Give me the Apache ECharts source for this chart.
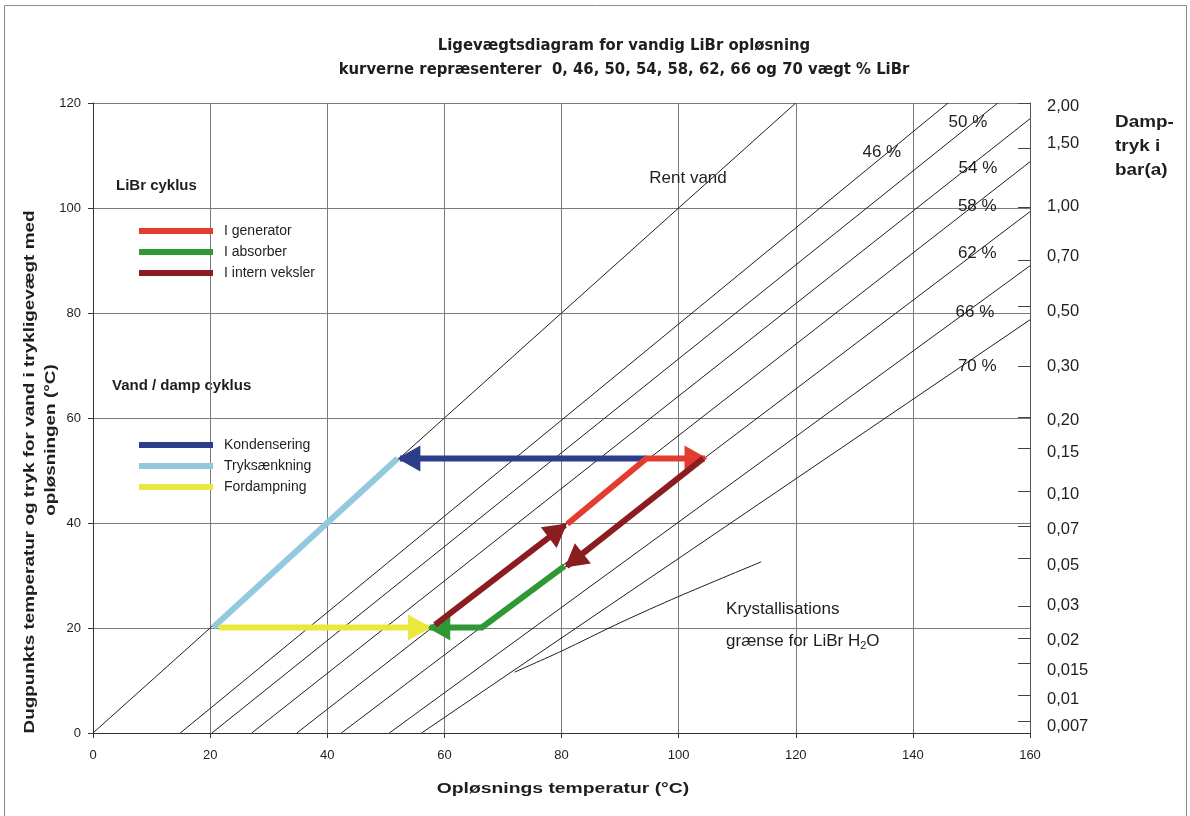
<!DOCTYPE html>
<html>
<head>
<meta charset="utf-8">
<script src="https://cdn.jsdelivr.net/npm/echarts@6/dist/echarts.min.js"></script>
<style>
  html, body { margin: 0; padding: 0; background: #fff; }
  #chart { width: 1190px; height: 816px; }
</style>
</head>
<body>
<div id="chart"></div>
<script>
// Dühring lines: solution temperature (x, °C) against dew-point temperature (y, °C)
const curveNames = ['0 %', '46 %', '50 %', '54 %', '58 %', '62 %', '66 %', '70 %'];
const curveStart = [[0, 0], [14.9, 0], [20.3, 0], [27.1, 0], [34.8, 0], [42.4, 0], [50.6, 0], [56.1, 0]];
const curveEnd = [[120, 120], [146, 120], [154.5, 120], [160, 117], [160, 108.8], [160, 99.3], [160, 89], [160, 78.7]];

// crystallisation limit for LiBr·H2O
const crystalLine = [[72, 11.6], [80, 15.6], [90, 21.0], [100, 26.0], [114.1, 32.6]];

// absorption cycle paths, [solution temp, dew-point temp]
const generatorPath = [[81.0, 39.8], [94.5, 52.3], [104.5, 52.3]];
const absorberPath = [[80.5, 31.8], [66.4, 20.1], [57.5, 20.1]];
const exchangerUpPath = [[58.4, 20.6], [80.6, 39.6]];
const exchangerDownPath = [[104.2, 52.3], [80.9, 31.8]];
const condenserPath = [[94.5, 52.3], [52.4, 52.3]];
const throttlePath = [[52.0, 52.3], [20.5, 20.1]];
const evaporatorPath = [[21.5, 20.1], [57.3, 20.1]];

// right axis: vapour pressure in bar(a) and the dew-point temperatures they sit at
const pressureLabels = ['2,00', '1,50', '1,00', '0,70', '0,50', '0,30', '0,20', '0,15', '0,10', '0,07', '0,05', '0,03', '0,02', '0,015', '0,01', '0,007'];
const pressureTickAt = [120, 111.4, 100.2, 90.1, 81.2, 69.8, 60.2, 54.3, 46.0, 39.3, 33.3, 24.2, 18.0, 13.3, 7.2, 2.3];
const pressureLabelAt = [119.3, 112.3, 100.2, 90.7, 80.2, 69.8, 59.6, 53.4, 45.5, 38.7, 32.0, 24.2, 17.7, 12.0, 6.4, 1.2];

const FONT = '"Liberation Sans", Arial, sans-serif';
const INK = '#1e1e1e';

const COLORS = {
  generator: '#e33b30',
  absorber: '#2f9733',
  exchanger: '#8b1c1f',
  condenser: '#2b3d8b',
  throttle: '#93c8de',
  evaporator: '#ebe83c'
};

const chart = echarts.init(document.getElementById('chart'), null, { renderer: 'canvas' });

const series = [];

// concentration lines
curveNames.forEach((name, i) => {
  series.push({
    type: 'line',
    name: 'curve ' + name,
    data: [curveStart[i], curveEnd[i]],
    symbol: 'none',
    silent: true,
    z: 2,
    lineStyle: { color: INK, width: 1 }
  });
});

series.push({
  type: 'line',
  name: 'crystal',
  data: crystalLine,
  smooth: 0.3,
  symbol: 'none',
  silent: true,
  z: 2,
  lineStyle: { color: INK, width: 1 }
});

// a thick cycle path ending in a solid arrow head
function cyclePath(name, color, path, arrow, z) {
  const s = {
    type: 'line',
    name: name,
    color: color,
    data: path,
    symbol: 'none',
    silent: true,
    z: z,
    lineStyle: { color: color, width: 6, cap: 'butt', join: 'miter' }
  };
  if (arrow) {
    const n = path.length;
    s.markLine = {
      silent: true,
      symbol: ['none', 'triangle'],
      symbolSize: [26, 23],
      symbolOffset: [0, [0, 9]],
      label: { show: false },
      emphasis: { disabled: true },
      lineStyle: { color: color, width: 0, type: 'solid', opacity: 1 },
      data: [[{ coord: path[n - 2] }, { coord: path[n - 1] }]]
    };
  }
  return s;
}

series.push(cyclePath('Tryksænkning', COLORS.throttle, throttlePath, false, 5));
series.push(cyclePath('Fordampning', COLORS.evaporator, evaporatorPath, true, 6));
series.push(cyclePath('Kondensering', COLORS.condenser, condenserPath, true, 6));
series.push(cyclePath('I absorber', COLORS.absorber, absorberPath, true, 7));
series.push(cyclePath('I generator', COLORS.generator, generatorPath, true, 8));
series.push(cyclePath('I intern veksler', COLORS.exchanger, exchangerUpPath, true, 9));
series.push(cyclePath('I intern veksler', COLORS.exchanger, exchangerDownPath, true, 9));

// in-plot annotations
const notes = [
  { value: [101.6, 105.7], name: 'Rent vand' },
  { value: [134.7, 110.7], name: '46 %' },
  { value: [149.4, 116.4], name: '50 %' },
  { value: [151.1, 107.6], name: '54 %' },
  { value: [151.0, 100.3], name: '58 %' },
  { value: [151.0, 91.4], name: '62 %' },
  { value: [150.6, 80.2], name: '66 %' },
  { value: [151.0, 69.8], name: '70 %' }
];
series.push({
  type: 'scatter',
  name: 'notes',
  data: notes,
  symbolSize: 0,
  silent: true,
  z: 10,
  itemStyle: { opacity: 1 },
  label: {
    show: true,
    position: 'inside',
    formatter: p => p.name,
    fontFamily: FONT,
    fontSize: 17,
    color: INK,
    textBorderWidth: 0
  }
});
series.push({
  type: 'scatter',
  name: 'crystal note',
  data: [{ value: [108.1, 20.5], name: 'k' }],
  symbolSize: 0,
  silent: true,
  z: 10,
  itemStyle: { opacity: 1 },
  label: {
    show: true,
    position: 'inside',
    align: 'left',
    verticalAlign: 'middle',
    textBorderWidth: 0,
    formatter: '{t|Krystallisations}\n{t|grænse for LiBr H}{s|2}{t|O}',
    lineHeight: 32,
    rich: {
      t: { fontFamily: FONT, fontSize: 17, color: INK, lineHeight: 32, textBorderWidth: 0 },
      s: { fontFamily: FONT, fontSize: 11, color: INK, padding: [9, 0, 0, 0], lineHeight: 32, textBorderWidth: 0 }
    }
  }
});

function nearestLabel(v) {
  let best = 0, d = Infinity;
  pressureLabelAt.forEach((p, i) => { const dd = Math.abs(p - v); if (dd < d) { d = dd; best = i; } });
  return pressureLabels[best];
}

const legendText = { fontFamily: FONT, fontSize: 14, color: INK, lineHeight: 20, padding: [0, 0, 0, 6] };

const option = {
  animation: false,
  backgroundColor: '#ffffff',
  textStyle: { fontFamily: FONT },
  title: {
    text: 'Ligevægtsdiagram for vandig LiBr opløsning\nkurverne repræsenterer  0, 46, 50, 54, 58, 62, 66 og 70 vægt % LiBr',
    left: 619,
    top: 29,
    textAlign: 'center',
    textStyle: {
      fontFamily: '"Liberation Sans Narrow", "DejaVu Sans Condensed", "Arial Narrow", sans-serif',
      fontSize: 16.5,
      fontWeight: 'bold',
      lineHeight: 24,
      color: INK
    }
  },
  legend: [
    {
      orient: 'vertical',
      left: 139,
      top: 221,
      padding: 0,
      icon: 'rect',
      itemWidth: 74,
      itemHeight: 6,
      itemGap: 1,
      selectedMode: false,
      data: ['I generator', 'I absorber', 'I intern veksler'],
      textStyle: legendText
    },
    {
      orient: 'vertical',
      left: 139,
      top: 435,
      padding: 0,
      icon: 'rect',
      itemWidth: 74,
      itemHeight: 6,
      itemGap: 1,
      selectedMode: false,
      data: ['Kondensering', 'Tryksænkning', 'Fordampning'],
      textStyle: legendText
    }
  ],
  grid: { left: 93, top: 103, right: 160, bottom: 83, containLabel: false },
  xAxis: {
    type: 'value',
    min: 0,
    max: 160,
    interval: 20,
    axisLine: { lineStyle: { color: '#333', width: 1 } },
    axisTick: { show: true, length: 5, lineStyle: { color: '#333' } },
    axisLabel: { fontFamily: FONT, fontSize: 13, color: INK, margin: 16 },
    splitLine: { show: true, lineStyle: { color: '#7a7a7a', width: 1 } }
  },
  yAxis: [
    {
      type: 'value',
      min: 0,
      max: 120,
      interval: 20,
      axisLine: { show: true, lineStyle: { color: '#333', width: 1 } },
      axisTick: { show: true, length: 5, lineStyle: { color: '#333' } },
      axisLabel: { fontFamily: FONT, fontSize: 13, color: INK, margin: 12 },
      splitLine: { show: true, lineStyle: { color: '#7a7a7a', width: 1 } }
    },
    {
      type: 'value',
      position: 'right',
      min: 0,
      max: 120,
      axisLine: { show: true, onZero: false, lineStyle: { color: '#555', width: 1 } },
      axisTick: {
        show: true,
        inside: true,
        length: 12,
        customValues: pressureTickAt,
        lineStyle: { color: '#444' }
      },
      axisLabel: {
        fontFamily: FONT,
        fontSize: 16.5,
        color: INK,
        margin: 17,
        customValues: pressureLabelAt,
        formatter: v => nearestLabel(v)
      },
      splitLine: { show: false }
    }
  ],
  graphic: [
    {
      type: 'rect',
      shape: { x: 4.5, y: 5.5, width: 1182, height: 830 },
      style: { fill: 'none', stroke: '#8a8a8a', lineWidth: 1 },
      silent: true
    },
    {
      type: 'text',
      left: 116,
      top: 178,
      style: { text: 'LiBr cyklus', font: 'bold 15px ' + FONT, fill: INK }
    },
    {
      type: 'text',
      left: 112,
      top: 378,
      style: { text: 'Vand / damp cyklus', font: 'bold 15px ' + FONT, fill: INK }
    },
    {
      type: 'text',
      x: 1115,
      y: 111,
      scaleX: 1.18,
      style: { text: 'Damp-\ntryk i\nbar(a)', font: 'bold 16px ' + FONT, fill: INK, lineHeight: 24 }
    },
    {
      type: 'text',
      x: 563,
      y: 789,
      scaleX: 1.38,
      style: {
        text: 'Opløsnings temperatur (°C)',
        font: 'bold 14px ' + FONT,
        fill: INK,
        align: 'center',
        verticalAlign: 'middle'
      }
    },
    {
      type: 'text',
      x: 30,
      y: 472,
      rotation: Math.PI / 2,
      scaleX: 1.35,
      style: {
        text: 'Dugpunkts temperatur og tryk for vand i trykligevægt med',
        font: 'bold 14px ' + FONT,
        fill: INK,
        align: 'center',
        verticalAlign: 'middle'
      }
    },
    {
      type: 'text',
      x: 51,
      y: 440,
      rotation: Math.PI / 2,
      scaleX: 1.35,
      style: {
        text: 'opløsningen (°C)',
        font: 'bold 14px ' + FONT,
        fill: INK,
        align: 'center',
        verticalAlign: 'middle'
      }
    }
  ],
  series: series
};

chart.setOption(option);
</script>
</body>
</html>
